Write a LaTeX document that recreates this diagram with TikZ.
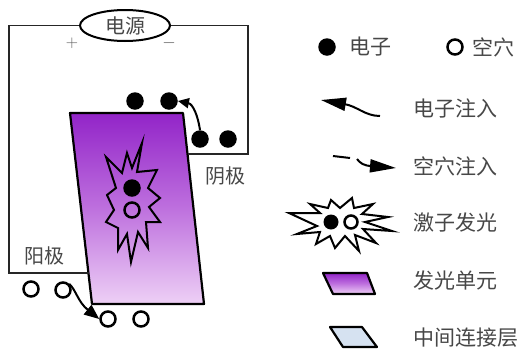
\documentclass[tikz,border=0pt]{standalone}
\usepackage{fontspec}
\newfontfamily\cjk{Noto Sans CJK SC}
\usetikzlibrary{shapes.geometric,arrows.meta}
\definecolor{emtop}{RGB}{146,36,200}
\definecolor{emmid}{RGB}{190,112,222}
\definecolor{embot}{RGB}{238,208,246}
\definecolor{cgl}{RGB}{214,226,241}
\tikzset{
  wire/.style={line width=1.8pt, black!85},
  lbl/.style={font=\cjk\fontsize{20}{22}\selectfont, text=black!72, inner sep=0pt},
  leg/.style={font=\cjk\fontsize{21}{23}\selectfont, text=black!72, inner sep=0pt, anchor=west},
  electron/.style={circle, fill=black, minimum size=17.5pt, inner sep=0pt},
  hole/.style={circle, draw=black, line width=2.5pt, minimum size=15pt, inner sep=0pt},
  emitter/.style={draw=black, line width=2.2pt, line join=round,
    top color=emtop, bottom color=embot, middle color=emmid},
  interlayer/.style={draw=black, line width=2.2pt, line join=round, fill=cgl},
  burst/.style={draw=black, line width=2pt, line join=miter},
  inject/.style={line width=2pt, black}
}
\begin{document}
\begin{tikzpicture}[x=1pt,y=-1pt]
\useasboundingbox (0,0) rectangle (525,354);

% emitting unit between anode and cathode
\draw[emitter] (70,113) -- (183,113) -- (204,304) -- (92,304) -- cycle;

% exciton burst inside the emitting unit
\draw[burst] (142,143) -- (137,172) -- (157,170) -- (148,188) -- (160,198)
  -- (149,207) -- (160,222) -- (146,222) -- (148,248) -- (138,232)
  -- (131,262) -- (127,234) -- (118,250) -- (118,228) -- (106,222)
  -- (114,210) -- (107,195) -- (116,188) -- (106,157) -- (122,173)
  -- (127,153) -- (132,168) -- cycle;
\node[electron] (xe) at (132,188) {};
\node[hole] (xh) at (132,210) {};

% power supply and circuit
\node[draw, ellipse, line width=2pt, fill=white, minimum width=90pt, minimum height=31pt,
  inner sep=0pt] (pwr) at (125,25.5) {};
\node[lbl] (pwrtxt) at (125,26) {电源};
\coordinate (cat) at (187.5,154);
\coordinate (ano) at (88.5,273);
\draw[wire] (pwr.east) -| (248,154) -- (cat);
\draw[wire] (pwr.west) -| (9,273) -- (ano);
\node[font=\fontsize{17}{17}\selectfont, text=black!65] (plus) at (72,43) {+};
\node[font=\fontsize{17}{17}\selectfont, text=black!65] (minus) at (169,43) {$-$};

\node[lbl] (cathode) at (225,176) {阴极};
\node[lbl] (anode) at (44,256) {阳极};

% electrons at the cathode
\node[electron] (et1) at (135,101) {};
\node[electron] (et2) at (169,101) {};
\node[electron] (eb1) at (200,139) {};
\node[electron] (eb2) at (228,139) {};
\draw[inject, -{Triangle[length=11pt,width=10pt]}] (eb1.north) .. controls (198,116) and (193,104) .. (et2.east);

% holes at the anode
\node[hole] (hb1) at (31,289) {};
\node[hole] (hb2) at (63,290) {};
\node[hole] (hc1) at (108,319) {};
\node[hole] (hc2) at (141,319) {};
\draw[inject, -{Triangle[length=15pt,width=12pt]}] (hb2.north east) .. controls (76,290) and (78,302) .. (hc1.west);

% legend
\node[electron] (le) at (327,47) {};
\node[leg] (let) at (349,47) {电子};
\node[hole] (lh) at (455,47) {};
\node[leg] (lht) at (472,47) {空穴};

\coordinate (ei0) at (380,116);
\coordinate (ei1) at (344,104);
\coordinate (ei2) at (321,100);
\draw[inject] (ei0) .. controls (365,116) and (357,106) .. (ei1);
\draw[inject, -{Triangle[length=25pt,width=13pt]}] (ei1) -- (ei2);
\node[leg] (leit) at (413,108) {电子注入};

\coordinate (hi0) at (333,156);
\coordinate (hi1) at (350,158);
\coordinate (hi2) at (357,159);
\coordinate (hi3) at (372,166);
\coordinate (hi4) at (396,168);
\draw[inject] (hi0) -- (hi1);
\draw[inject] (hi2) .. controls (360,163) and (364,166) .. (hi3);
\draw[inject, -{Triangle[length=26pt,width=13pt]}] (hi3) -- (hi4);
\node[leg] (lhit) at (413,166) {空穴注入};

\draw[burst, fill=white] (289,213) -- (320,213) -- (310,204) -- (328,208) -- (331,200)
  -- (340,208) -- (352,198) -- (354,208) -- (373,204) -- (362,214)
  -- (388,217) -- (365,222) -- (392,231) -- (363,229) -- (376,243)
  -- (355,235) -- (359,251) -- (345,236) -- (335,248) -- (330,236)
  -- (316,244) -- (320,232) -- (297,234) -- (317,226) -- cycle;
\node[electron, minimum size=15pt] (lxe) at (331,222) {};
\node[hole, fill=white, minimum size=13pt] (lxh) at (351,222) {};
\node[leg] (lxt) at (413,223) {激子发光};

\draw[emitter] (323,273) -- (367,273) -- (375,294) -- (333,294) -- cycle;
\node[leg] (lemt) at (413,281) {发光单元};

\draw[interlayer] (330,327) -- (362,327) -- (377,347) -- (343,347) -- cycle;
\node[leg] (lcgt) at (413,338) {中间连接层};
\end{tikzpicture}
\end{document}
